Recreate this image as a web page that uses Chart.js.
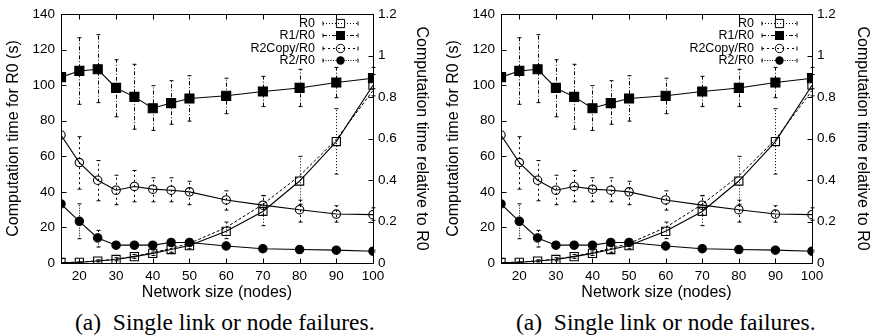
<!DOCTYPE html>
<html><head><meta charset="utf-8">
<script src="https://cdn.jsdelivr.net/npm/chart.js@4.4.1/dist/chart.umd.min.js"></script>
<style>
html,body{margin:0;padding:0;background:#fff}
body{width:873px;height:335px;overflow:hidden;position:relative}
.panel{position:absolute;top:0}
.cap{position:absolute;top:308px;font-family:"Liberation Serif","Times New Roman",serif;font-size:23.5px;white-space:pre;color:#000;line-height:28px}
</style></head><body>
<div class="panel" style="left:0px;width:440px;height:305px"><canvas id="c1" width="440" height="305"></canvas></div>
<div class="panel" style="left:440px;width:433px;height:305px"><canvas id="c2" width="433" height="305"></canvas></div>
<div class="cap" style="left:75px">(a)  Single link or node failures.</div>
<div class="cap" style="left:516px">(a)  Single link or node failures.</div>
<script>
// ---- data ----
const xVals = [15,20,25,30,35,40,45,50,60,70,80,90,100];
const xTicks = [20,30,40,50,60,70,80,90,100];
const yLeftTicks = [0,20,40,60,80,100,120,140];
const yRightTicks = [0,0.2,0.4,0.6,0.8,1,1.2];

const r0     = [0.3,0.4,1.1,2.0,3.6,5.4,7.6,9.8,17.8,29.0,46.1,68.3,100];
const r0Low  = [null,0.1,0.6,1.2,2.6,4.2,6.0,8.0,13.7,21.0,33.0,50.0,94.0];
const r0High = [null,0.6,1.8,3.0,4.8,6.8,9.5,12.5,23.0,38.0,60.0,86.8,106.0];
const r0Fit  = [0.2,0.5,1.2,2.2,3.8,5.8,8.2,11.0,20.0,33.0,49.0,69.5,97.0];

const r1     = [0.896,0.926,0.934,0.844,0.801,0.746,0.771,0.793,0.806,0.827,0.844,0.870,0.891];
const r1Low  = [null,0.765,0.773,0.705,0.645,0.639,0.669,0.684,0.720,0.754,0.754,0.797,0.840];
const r1High = [null,1.086,1.101,0.980,0.958,0.855,0.879,0.903,0.891,0.900,0.934,0.943,0.943];

const r2c     = [0.617,0.484,0.399,0.351,0.369,0.356,0.351,0.343,0.304,0.279,0.257,0.236,0.233];
const r2cLow  = [null,0.356,0.300,0.281,0.295,0.295,0.295,0.281,0.255,0.231,0.197,0.197,0.206];
const r2cHigh = [null,0.609,0.494,0.423,0.446,0.411,0.411,0.394,0.348,0.324,0.303,0.276,0.266];

const r2     = [0.285,0.201,0.121,0.086,0.086,0.086,0.099,0.099,0.082,0.069,0.065,0.062,0.057];
const r2Low  = [null,0.117,0.077,0.074,0.077,0.077,0.092,0.092,0.075,0.064,0.060,0.057,0.053];
const r2High = [null,0.285,0.157,0.102,0.102,0.099,0.107,0.107,0.089,0.075,0.070,0.066,0.062];

const legendLabels = ['R0','R1/R0','R2Copy/R0','R2/R0'];

const pts = arr => arr.map((v,i)=>({x:xVals[i], y:v}));
const FONT = '"Liberation Sans", Arial, Helvetica, sans-serif';

function drawMarker(ctx, style, filled, r, x, y){
  ctx.save();
  ctx.setLineDash([]);
  ctx.lineWidth = 1;
  ctx.strokeStyle = '#000';
  ctx.fillStyle = '#000';
  ctx.beginPath();
  if(style==='rect'){ const s = r*Math.SQRT1_2; ctx.rect(x-s,y-s,2*s,2*s); }
  else { ctx.arc(x,y,r,0,Math.PI*2); }
  if(filled) ctx.fill(); else ctx.stroke();
  ctx.restore();
}

const gnuPlugin = {
  id:'gnu',
  beforeDatasetsDraw(chart){
    const ctx = chart.ctx, xs = chart.scales.x;
    chart.data.datasets.forEach(ds=>{
      if(!ds.errLow) return;
      const ys = chart.scales[ds.yAxisID];
      ctx.save();
      ctx.strokeStyle='#000'; ctx.lineWidth=1;
      ds.data.forEach((p,j)=>{
        const lo = ds.errLow[j], hi = ds.errHigh[j];
        if(lo==null) return;
        const x = Math.round(xs.getPixelForValue(p.x))+0.5;
        const ya = ys.getPixelForValue(lo), yb = ys.getPixelForValue(hi);
        ctx.setLineDash(ds.errDash);
        ctx.beginPath(); ctx.moveTo(x,ya); ctx.lineTo(x,yb); ctx.stroke();
        ctx.setLineDash([]);
        ctx.beginPath();
        ctx.moveTo(x-2,ya); ctx.lineTo(x+2,ya);
        ctx.moveTo(x-2,yb); ctx.lineTo(x+2,yb);
        ctx.stroke();
      });
      ctx.restore();
    });
  },
  afterDraw(chart){
    const ctx = chart.ctx, a = chart.chartArea;
    const xs = chart.scales.x, yl = chart.scales.y, yr = chart.scales.y1;
    ctx.save();
    ctx.strokeStyle='#000'; ctx.lineWidth=1; ctx.setLineDash([]);
    const L = Math.round(a.left)+0.5, R = Math.round(a.right)+0.5, T = Math.round(a.top)+0.5, B = Math.round(a.bottom)+0.5;
    ctx.strokeRect(L,T,R-L,B-T);
    ctx.beginPath();
    xTicks.forEach(v=>{ const x=Math.round(xs.getPixelForValue(v))+0.5; ctx.moveTo(x,B); ctx.lineTo(x,B-5); ctx.moveTo(x,T); ctx.lineTo(x,T+5); });
    yLeftTicks.forEach(v=>{ const y=Math.round(yl.getPixelForValue(v))+0.5; ctx.moveTo(L,y); ctx.lineTo(L+5,y); });
    yRightTicks.forEach(v=>{ const y=Math.round(yr.getPixelForValue(v))+0.5; ctx.moveTo(R,y); ctx.lineTo(R-5,y); });
    ctx.stroke();
    // legend
    const specs = [
      {dash:[1,2], style:'rect', filled:false, r:5.8},
      {dash:[4,2,1,2], style:'rect', filled:true, r:6.4},
      {dash:[2,3], style:'circle', filled:false, r:4.2},
      {dash:[1,1.5], style:'circle', filled:true, r:4.2}
    ];
    ctx.font = '12.5px '+FONT;
    ctx.fillStyle='#000'; ctx.textAlign='right'; ctx.textBaseline='middle';
    legendLabels.forEach((lab,i)=>{
      const y = Math.round(a.top + 9 + i*12.2)+0.5;
      ctx.fillText(lab, a.right-58, y);
      const x0 = a.right-50, x1 = a.right-15;
      ctx.setLineDash(specs[i].dash);
      ctx.beginPath(); ctx.moveTo(x0,y); ctx.lineTo(x1,y); ctx.stroke();
      ctx.setLineDash([]);
      ctx.beginPath(); ctx.moveTo(x0,y-2); ctx.lineTo(x0,y+2); ctx.moveTo(x1,y-2); ctx.lineTo(x1,y+2); ctx.stroke();
      drawMarker(ctx, specs[i].style, specs[i].filled, specs[i].r, (x0+x1)/2, y);
    });
    ctx.restore();
  }
};

function makeChart(id, canvasW, plotRight, rightTitlePad){
  const base = {borderColor:'#000', borderWidth:1.1, fill:false, tension:0, pointBorderColor:'#000', pointBorderWidth:1.1};
  new Chart(document.getElementById(id), {
    type:'line',
    data:{datasets:[
      Object.assign({}, base, {label:'R0', data:pts(r0), yAxisID:'y', pointStyle:'rect', pointRadius:5.8, pointBackgroundColor:'rgba(0,0,0,0)', errLow:r0Low, errHigh:r0High, errDash:[1,2]}),
      Object.assign({}, base, {label:'R0 fit', data:pts(r0Fit), yAxisID:'y', pointRadius:0, borderDash:[3,2], borderWidth:1}),
      Object.assign({}, base, {label:'R1/R0', data:pts(r1), yAxisID:'y1', pointStyle:'rect', pointRadius:6.4, pointBackgroundColor:'#000', errLow:r1Low, errHigh:r1High, errDash:[4,2,1,2]}),
      Object.assign({}, base, {label:'R2Copy/R0', data:pts(r2c), yAxisID:'y1', pointStyle:'circle', pointRadius:4.2, pointBackgroundColor:'rgba(0,0,0,0)', errLow:r2cLow, errHigh:r2cHigh, errDash:[2,3]}),
      Object.assign({}, base, {label:'R2/R0', data:pts(r2), yAxisID:'y1', pointStyle:'circle', pointRadius:4.2, pointBackgroundColor:'#000', errLow:r2Low, errHigh:r2High, errDash:[1,1.5]})
    ]},
    options:{
      responsive:false, animation:false, devicePixelRatio:1,
      layout:{padding:{top:11,left:0,right:0,bottom:0}},
      plugins:{legend:{display:false}, tooltip:{enabled:false}},
      scales:{
        x:{type:'linear', min:15, max:100,
          afterBuildTicks:s=>{ s.ticks = xTicks.map(v=>({value:v})); },
          afterFit:s=>{ s.height = 305-263; },
          grid:{display:false, drawTicks:false}, border:{display:false},
          ticks:{color:'#000', font:{family:FONT, size:13.5}, padding:5, maxRotation:0, autoSkip:false},
          title:{display:true, text:'Network size (nodes)', color:'#000', font:{family:FONT, size:16}, padding:{top:0,bottom:2.4}}
        },
        y:{type:'linear', position:'left', min:0, max:140,
          afterBuildTicks:s=>{ s.ticks = yLeftTicks.map(v=>({value:v})); },
          afterFit:s=>{ s.width = 61; },
          grid:{display:false, drawTicks:false}, border:{display:false},
          ticks:{color:'#000', font:{family:FONT, size:13.5}, padding:6},
          title:{display:true, text:'Computation time for R0 (s)', color:'#000', font:{family:FONT, size:16}, padding:3.5}
        },
        y1:{type:'linear', position:'right', min:0, max:1.2,
          afterBuildTicks:s=>{ s.ticks = yRightTicks.map(v=>({value:v})); },
          afterFit:s=>{ s.width = canvasW - plotRight; },
          grid:{display:false, drawTicks:false}, border:{display:false},
          ticks:{color:'#000', font:{family:FONT, size:13.5}, padding:5, callback:v=>String(v)},
          title:{display:true, text:'Computation time relative to R0', color:'#000', font:{family:FONT, size:16}, padding:rightTitlePad}
        }
      }
    },
    plugins:[gnuPlugin]
  });
}
makeChart('c1', 440, 373, 8.7);
makeChart('c2', 433, 372, 1.4);
</script>
</body></html>
